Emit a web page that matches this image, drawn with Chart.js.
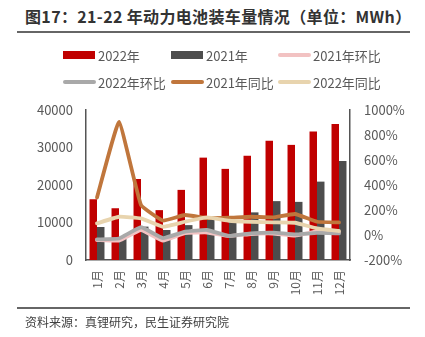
<!DOCTYPE html>
<html>
<head>
<meta charset="utf-8">
<script src="https://cdn.jsdelivr.net/npm/chart.js@4.4.1/dist/chart.umd.min.js"></script>
<style>
  html, body { margin: 0; padding: 0; background: #fff; }
  #wrap { position: relative; width: 425px; height: 337px; overflow: hidden; font-family: "Noto Sans CJK SC", "Noto Sans", sans-serif; }
  #title { position: absolute; left: 25px; top: 4px; font-size: 16px; font-weight: bold; color: #333; white-space: nowrap; letter-spacing: 0.35px; }
  .rule { position: absolute; left: 17px; width: 393px; height: 2px; background: #666; }
  #source { position: absolute; left: 25px; top: 313px; font-size: 12px; color: #404040; white-space: nowrap; }
  canvas { position: absolute; left: 0; top: 0; }
</style>
</head>
<body>
<div id="wrap">
  <div id="title">图17：21-22 年动力电池装车量情况（单位：MWh）</div>
  <div class="rule" style="top:31px"></div>
  <canvas id="c" width="425" height="337"></canvas>
  <div class="rule" style="top:307px"></div>
  <div id="source">资料来源：真锂研究，民生证券研究院</div>
</div>
<script>
// Monthly power battery installations (MWh) and growth rates (%)
const months = ['1月','2月','3月','4月','5月','6月','7月','8月','9月','10月','11月','12月'];
const install2022 = [16200, 13800, 21600, 13300, 18700, 27300, 24300, 27800, 31800, 30700, 34300, 36300];
const install2021 = [8800, 5800, 8900, 8000, 9300, 10700, 10200, 12700, 15700, 15500, 20900, 26400];
const mom2021 = [-40, -45, 40, -45, 15, 20, -8, 8, 12, -5, 28, 22];
const mom2022 = [-35, -28, 62, -25, 27, 40, -8, 13, 19, 5, 17, 13];
const yoy2021 = [300, 905, 240, 115, 160, 135, 138, 146, 141, 168, 106, 101];
const yoy2022 = [93, 146, 133, 66, 106, 141, 114, 106, 101, 98, 53, 32];
const leftTicks = [0, 10000, 20000, 30000, 40000];
const rightTicks = [-200, 0, 200, 400, 600, 800, 1000];

const FONT = '"Noto Sans CJK SC", "Noto Sans", sans-serif';
const TXT = '#595959';

function lineSet(label, data, color, order) {
  return {
    type: 'line', label, data, yAxisID: 'y1', order,
    borderColor: color, backgroundColor: color, borderWidth: 3.8,
    pointRadius: 0, tension: 0.1, borderCapStyle: 'round', borderJoinStyle: 'round'
  };
}

// Legend laid out as a fixed 3-column grid above the plot
const gridLegend = {
  id: 'gridLegend',
  afterDraw(chart) {
    const ctx = chart.ctx;
    const cols = [63, 171, 278];
    const rows = [55, 82];
    ctx.save();
    ctx.font = '13px ' + FONT;
    ctx.textBaseline = 'middle';
    chart.data.datasets.forEach((ds, i) => {
      const x = cols[i % 3], y = rows[Math.floor(i / 3)];
      if (ds.type === 'line') {
        ctx.strokeStyle = ds.borderColor;
        ctx.lineWidth = 4;
        ctx.lineCap = 'round';
        ctx.beginPath();
        ctx.moveTo(x + 2, y);
        ctx.lineTo(x + 31, y);
        ctx.stroke();
      } else {
        ctx.fillStyle = ds.backgroundColor;
        ctx.fillRect(x, y - 4, 32, 8);
      }
      ctx.fillStyle = TXT;
      ctx.fillText(ds.label, x + 35, y + 1);
    });
    ctx.restore();
  }
};

new Chart(document.getElementById('c'), {
  data: {
    labels: months,
    datasets: [
      { type: 'bar', label: '2022年', data: install2022, yAxisID: 'y', order: 5,
        backgroundColor: '#C00000', categoryPercentage: 0.68, barPercentage: 1 },
      { type: 'bar', label: '2021年', data: install2021, yAxisID: 'y', order: 6,
        backgroundColor: '#4D4D4D', categoryPercentage: 0.68, barPercentage: 1 },
      lineSet('2021年环比', mom2021, '#F2C2C2', 4),
      lineSet('2022年环比', mom2022, '#A9A9A9', 3),
      lineSet('2021年同比', yoy2021, '#C0763C', 2),
      lineSet('2022年同比', yoy2022, '#E8D4AE', 1)
    ]
  },
  options: {
    responsive: false,
    animation: false,
    layout: { padding: { top: 110, left: 0, right: 0, bottom: 0 } },
    plugins: { legend: { display: false }, tooltip: { enabled: false } },
    scales: {
      x: {
        grid: { display: false, drawTicks: false },
        border: { display: true, color: '#555', width: 1.5 },
        ticks: { color: TXT, font: { family: FONT, size: 12 }, minRotation: 90, maxRotation: 90, padding: 10, autoSkip: false },
        afterFit(s) { s.height = 77; }
      },
      y: {
        position: 'left', min: 0, max: 40000,
        grid: { display: false, drawTicks: false },
        border: { display: true, color: '#555', width: 1.5 },
        afterBuildTicks(s) { s.ticks = leftTicks.map(v => ({ value: v })); },
        ticks: { color: TXT, font: { family: FONT, size: 13 }, padding: 13, callback: v => String(v) },
        afterFit(s) { s.width = 86; }
      },
      y1: {
        position: 'right', min: -200, max: 1000,
        grid: { display: false, drawTicks: false },
        border: { display: true, color: '#555', width: 1.5 },
        afterBuildTicks(s) { s.ticks = rightTicks.map(v => ({ value: v })); },
        ticks: { color: TXT, font: { family: FONT, size: 13 }, padding: 14, callback: v => v + '%' },
        afterFit(s) { s.width = 75; }
      }
    }
  },
  plugins: [gridLegend]
});
</script>
</body>
</html>
